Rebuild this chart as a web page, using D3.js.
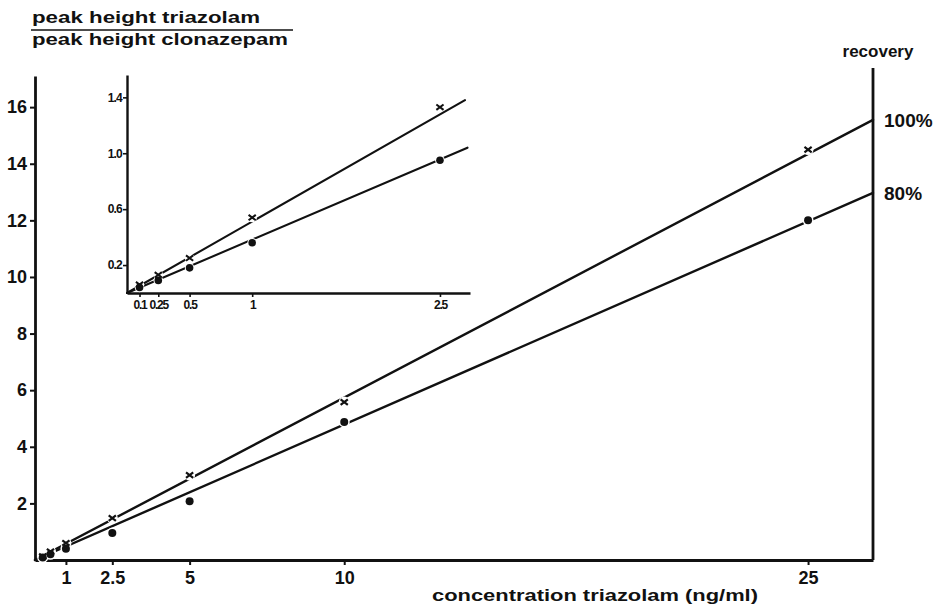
<!DOCTYPE html>
<html>
<head>
<meta charset="utf-8">
<script src="https://cdn.jsdelivr.net/npm/d3@7"></script>
<style>
  html, body { margin: 0; padding: 0; background: #fff; }
  svg { display: block; }
  text { font-family: "Liberation Sans", Arial, sans-serif; font-weight: bold; fill: #111; }
</style>
</head>
<body>
<svg id="chart" width="945" height="609"></svg>
<script>
// ---------- DATA ----------
// Main chart (concentration triazolam, ng/ml)
const mainConc = [0.25, 0.5, 1, 2.5, 5, 10, 25];
const ratio100 = [0.13, 0.30, 0.60, 1.48, 3.00, 5.58, 14.5];   // x markers, 100% recovery
const ratio80  = [0.09, 0.20, 0.40, 0.95, 2.08, 4.88, 12.0];   // dots, 80% recovery
const fit100 = [[0, 0], [27.1, 15.55]];
const fit80  = [[0, 0], [27.1, 12.97]];
const mainXTicks = [1, 2.5, 5, 10, 25];
const mainXTickLabels = ["1", "2.5", "5", "10", "25"];
const mainYTicks = [2, 4, 6, 8, 10, 12, 14, 16];
const mainYTickLabels = ["2", "4", "6", "8", "10", "12", "14", "16"];
const recoveryLabels = ["100%", "80%"];

// Inset (low range)
const insetConc = [0.1, 0.25, 0.5, 1, 2.5];
const insetRatio100 = [0.06, 0.13, 0.25, 0.54, 1.33];
const insetRatio80  = [0.04, 0.09, 0.18, 0.36, 0.95];
const insetFit100 = [[0, 0], [2.70, 1.38]];
const insetFit80  = [[0, 0], [2.72, 1.04]];
const insetXTicks = [0.1, 0.25, 0.5, 1, 2.5];
const insetXTickLabels = ["0.1", "0.25", "0.5", "1", "2.5"];
const insetYTicks = [0.2, 0.6, 1.0, 1.4];
const insetYTickLabels = ["0.2", "0.6", "1.0", "1.4"];

// ---------- DRAW ----------
const svg = d3.select("#chart");
const ink = "#111";

function drawPanel(opts) {
  const g = svg.append("g");
  const x = d3.scaleLinear().domain(opts.xDomain).range(opts.xRange);
  const y = d3.scaleLinear().domain(opts.yDomain).range(opts.yRange);

  // X axis
  const xAxis = d3.axisBottom(x)
    .tickValues(opts.xTicks)
    .tickFormat((d, i) => opts.xLabels[i])
    .tickSizeOuter(0).tickSizeInner(opts.tickLen).tickPadding(opts.xPad);
  const gx = g.append("g").attr("transform", `translate(0,${opts.yRange[0]})`).call(xAxis);
  gx.select(".domain").attr("stroke", ink).attr("stroke-width", opts.axisW);
  gx.selectAll(".tick line").attr("stroke", ink).attr("stroke-width", opts.tickW);
  gx.selectAll(".tick text").attr("font-size", opts.fontSize).attr("fill", ink)
    .style("font-family", "'Liberation Sans', Arial, sans-serif").style("font-weight", "bold")
    .attr("letter-spacing", opts.xLetter || 0);

  // Y axis
  const yAxis = d3.axisLeft(y)
    .tickValues(opts.yTicks)
    .tickFormat((d, i) => opts.yLabels[i])
    .tickSizeOuter(0).tickSizeInner(opts.tickLen).tickPadding(opts.yPad);
  const gy = g.append("g").attr("transform", `translate(${opts.xRange[0]},0)`).call(yAxis);
  gy.select(".domain").attr("stroke", ink).attr("stroke-width", opts.axisW);
  gy.selectAll(".tick line").attr("stroke", ink).attr("stroke-width", opts.tickW);
  gy.selectAll(".tick text").attr("font-size", opts.fontSize).attr("fill", ink)
    .style("font-family", "'Liberation Sans', Arial, sans-serif").style("font-weight", "bold")
    .attr("letter-spacing", opts.yLetter || 0);

  const line = d3.line().x(d => x(d[0])).y(d => y(d[1]));
  [opts.fitA, opts.fitB].forEach(f => {
    g.append("path").datum(f).attr("d", line)
      .attr("fill", "none").attr("stroke", ink).attr("stroke-width", opts.lineW)
      .attr("stroke-linecap", "round");
  });

  // halos (gaps in the line around markers)
  const ptsA = opts.conc.map((c, i) => [c, opts.valA[i]]);
  const ptsB = opts.conc.map((c, i) => [c, opts.valB[i]]);
  g.selectAll(null).data(ptsA.concat(ptsB)).enter().append("circle")
    .attr("cx", d => x(d[0])).attr("cy", d => y(d[1])).attr("r", opts.halo)
    .attr("fill", "#fff");

  // x markers
  const s = opts.xSize;
  g.selectAll(null).data(ptsA).enter().append("path")
    .attr("d", d => {
      const cx = x(d[0]), cy = y(d[1]);
      return `M${cx - s},${cy - s * 0.75}L${cx + s},${cy + s * 0.75}M${cx - s},${cy + s * 0.75}L${cx + s},${cy - s * 0.75}`;
    })
    .attr("stroke", ink).attr("stroke-width", opts.markW).attr("fill", "none");
  // dots
  g.selectAll(null).data(ptsB).enter().append("circle")
    .attr("cx", d => x(d[0])).attr("cy", d => y(d[1])).attr("r", opts.dotR)
    .attr("fill", ink);

  return { x, y, g };
}

const main = drawPanel({
  xDomain: [0, 27.1], xRange: [35, 873],
  yDomain: [0, 17.1], yRange: [560, 76],
  xTicks: mainXTicks, xLabels: mainXTickLabels,
  yTicks: mainYTicks, yLabels: mainYTickLabels,
  tickLen: 5, xPad: 6, yPad: 3, fontSize: 18,
  axisW: 2.8, tickW: 2, lineW: 2.4,
  fitA: fit100, fitB: fit80,
  conc: mainConc, valA: ratio100, valB: ratio80,
  halo: 5.5, xSize: 3.6, markW: 2.2, dotR: 4
});

// right "recovery" boundary line
svg.append("line")
  .attr("x1", main.x(27.1)).attr("x2", main.x(27.1))
  .attr("y1", 68).attr("y2", main.y(0))
  .attr("stroke", ink).attr("stroke-width", 2.8);

svg.append("text").attr("x", 878).attr("y", 57).attr("text-anchor", "middle")
  .attr("font-size", 17).text("recovery");
svg.selectAll(".rec").data(recoveryLabels).enter().append("text")
  .attr("class", "rec")
  .attr("x", 884)
  .attr("y", (d, i) => main.y([fit100, fit80][i][1][1]) + 7)
  .attr("font-size", 19).text(d => d);

// inset
drawPanel({
  xDomain: [0, 2.74], xRange: [127, 470],
  yDomain: [0, 1.56], yRange: [293, 75],
  xTicks: insetXTicks, xLabels: insetXTickLabels,
  yTicks: insetYTicks, yLabels: insetYTickLabels,
  tickLen: 4, xPad: 3, yPad: 1, fontSize: 12, xLetter: -1.2, yLetter: -0.8,
  axisW: 2.4, tickW: 1.6, lineW: 2.1,
  fitA: insetFit100, fitB: insetFit80,
  conc: insetConc, valA: insetRatio100, valB: insetRatio80,
  halo: 4.8, xSize: 3.6, markW: 2, dotR: 3.8
});

// y-axis title (fraction)
svg.append("text").attr("x", 32).attr("y", 23).attr("font-size", 16)
  .attr("textLength", 228).attr("lengthAdjust", "spacingAndGlyphs")
  .text("peak height triazolam");
svg.append("line").attr("x1", 31).attr("x2", 293).attr("y1", 30).attr("y2", 30)
  .attr("stroke", ink).attr("stroke-width", 1.6);
svg.append("text").attr("x", 32).attr("y", 45).attr("font-size", 16)
  .attr("textLength", 256).attr("lengthAdjust", "spacingAndGlyphs")
  .text("peak height clonazepam");

// x-axis title
svg.append("text").attr("x", 432).attr("y", 601).attr("font-size", 16)
  .attr("textLength", 326).attr("lengthAdjust", "spacingAndGlyphs")
  .text("concentration triazolam (ng/ml)");
</script>
</body>
</html>
